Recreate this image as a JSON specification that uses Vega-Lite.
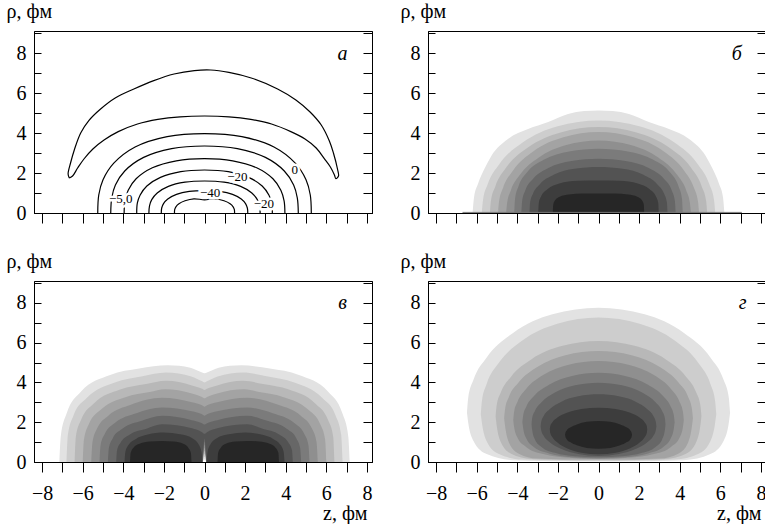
{
"$schema": "https://vega.github.io/schema/vega-lite/v6.json",
"padding": {"left": 5, "top": 0, "right": 0, "bottom": 0},
"bounds": "flush",
"columns": 2,
"spacing": {"row": 68, "column": 56},
"config": {
 "view": {"stroke": "#000", "strokeWidth": 1},
 "font": "Liberation Serif",
 "axis": {"domainColor": "#000", "domainWidth": 1, "tickColor": "#000", "tickWidth": 1, "labelColor": "#000", "labelFont": "Liberation Serif", "labelFontSize": 20, "titleFont": "Liberation Serif", "titleFontSize": 20, "titleFontWeight": "normal", "titleColor": "#000", "grid": false, "labelOverlap": false, "labelFlush": false, "labelBound": false}
},
"datasets": {
"tx": [
{"p":"a","k":"L","z":6.8,"r":7.96,"t":"а"},
{"p":"b","k":"L","z":6.81,"r":7.96,"t":"б"},
{"p":"v","k":"L","z":6.8,"r":8.0,"t":"в"},
{"p":"g","k":"L","z":7.1,"r":8.0,"t":"г"},
{"p":"a","k":"n","z":-4.13,"r":0.72,"t":"−5,0"},
{"p":"a","k":"n","z":1.62,"r":1.81,"t":"−20"},
{"p":"a","k":"n","z":0.28,"r":1.01,"t":"−40"},
{"p":"a","k":"n","z":2.92,"r":0.46,"t":"−20"},
{"p":"a","k":"n","z":4.45,"r":2.14,"t":"0"}
],
"ln": [
{"p":"a","c":0,"i":0,"z":-6.66,"r":1.75},
{"p":"a","c":0,"i":1,"z":-6.72,"r":1.95},
{"p":"a","c":0,"i":2,"z":-6.6,"r":2.5},
{"p":"a","c":0,"i":3,"z":-6.4,"r":3.2},
{"p":"a","c":0,"i":4,"z":-6.1,"r":4.0},
{"p":"a","c":0,"i":5,"z":-5.7,"r":4.62},
{"p":"a","c":0,"i":6,"z":-5.12,"r":5.2},
{"p":"a","c":0,"i":7,"z":-4.4,"r":5.75},
{"p":"a","c":0,"i":8,"z":-3.48,"r":6.2},
{"p":"a","c":0,"i":9,"z":-2.5,"r":6.62},
{"p":"a","c":0,"i":10,"z":-1.5,"r":6.95},
{"p":"a","c":0,"i":11,"z":-0.5,"r":7.12},
{"p":"a","c":0,"i":12,"z":0.3,"r":7.15},
{"p":"a","c":0,"i":13,"z":1.2,"r":7.03},
{"p":"a","c":0,"i":14,"z":2.3,"r":6.75},
{"p":"a","c":0,"i":15,"z":3.6,"r":6.2},
{"p":"a","c":0,"i":16,"z":4.5,"r":5.65},
{"p":"a","c":0,"i":17,"z":5.2,"r":5.05},
{"p":"a","c":0,"i":18,"z":5.75,"r":4.4},
{"p":"a","c":0,"i":19,"z":6.15,"r":3.6},
{"p":"a","c":0,"i":20,"z":6.35,"r":3.0},
{"p":"a","c":0,"i":21,"z":6.55,"r":2.2},
{"p":"a","c":0,"i":22,"z":6.6,"r":1.85},
{"p":"a","c":0,"i":23,"z":6.47,"r":1.72},
{"p":"a","c":0,"i":24,"z":6.4,"r":1.9},
{"p":"a","c":0,"i":25,"z":6.2,"r":2.3},
{"p":"a","c":0,"i":26,"z":5.9,"r":2.72},
{"p":"a","c":0,"i":27,"z":5.5,"r":3.25},
{"p":"a","c":0,"i":28,"z":4.95,"r":3.7},
{"p":"a","c":0,"i":29,"z":4.25,"r":4.07},
{"p":"a","c":0,"i":30,"z":3.3,"r":4.45},
{"p":"a","c":0,"i":31,"z":2.28,"r":4.68},
{"p":"a","c":0,"i":32,"z":1.2,"r":4.81},
{"p":"a","c":0,"i":33,"z":0,"r":4.85},
{"p":"a","c":0,"i":34,"z":-1.2,"r":4.81},
{"p":"a","c":0,"i":35,"z":-2.3,"r":4.68},
{"p":"a","c":0,"i":36,"z":-3.3,"r":4.45},
{"p":"a","c":0,"i":37,"z":-4.25,"r":4.07},
{"p":"a","c":0,"i":38,"z":-4.95,"r":3.65},
{"p":"a","c":0,"i":39,"z":-5.5,"r":3.2},
{"p":"a","c":0,"i":40,"z":-5.94,"r":2.7},
{"p":"a","c":0,"i":41,"z":-6.25,"r":2.25},
{"p":"a","c":0,"i":42,"z":-6.5,"r":1.85},
{"p":"a","c":0,"i":43,"z":-6.66,"r":1.75},
{"p":"a","c":1,"i":0,"z":-5.26,"r":0},
{"p":"a","c":1,"i":1,"z":-5.21,"r":0.9},
{"p":"a","c":1,"i":2,"z":-5.0,"r":1.66},
{"p":"a","c":1,"i":3,"z":-4.47,"r":2.49},
{"p":"a","c":1,"i":4,"z":-3.42,"r":3.3},
{"p":"a","c":1,"i":5,"z":-1.84,"r":3.82},
{"p":"a","c":1,"i":6,"z":0,"r":3.97},
{"p":"a","c":1,"i":7,"z":1.84,"r":3.82},
{"p":"a","c":1,"i":8,"z":3.42,"r":3.3},
{"p":"a","c":1,"i":9,"z":4.47,"r":2.49},
{"p":"a","c":1,"i":10,"z":5.0,"r":1.66},
{"p":"a","c":1,"i":11,"z":5.21,"r":0.9},
{"p":"a","c":1,"i":12,"z":5.26,"r":0},
{"p":"a","c":2,"i":0,"z":-4.62,"r":0},
{"p":"a","c":2,"i":1,"z":-4.57,"r":0.76},
{"p":"a","c":2,"i":2,"z":-4.39,"r":1.4},
{"p":"a","c":2,"i":3,"z":-3.93,"r":2.1},
{"p":"a","c":2,"i":4,"z":-3.0,"r":2.78},
{"p":"a","c":2,"i":5,"z":-1.62,"r":3.22},
{"p":"a","c":2,"i":6,"z":0,"r":3.35},
{"p":"a","c":2,"i":7,"z":1.62,"r":3.22},
{"p":"a","c":2,"i":8,"z":3.0,"r":2.78},
{"p":"a","c":2,"i":9,"z":3.93,"r":2.1},
{"p":"a","c":2,"i":10,"z":4.39,"r":1.4},
{"p":"a","c":2,"i":11,"z":4.57,"r":0.76},
{"p":"a","c":2,"i":12,"z":4.62,"r":0},
{"p":"a","c":3,"i":0,"z":-3.96,"r":0},
{"p":"a","c":3,"i":1,"z":-3.92,"r":0.61},
{"p":"a","c":3,"i":2,"z":-3.76,"r":1.14},
{"p":"a","c":3,"i":3,"z":-3.37,"r":1.71},
{"p":"a","c":3,"i":4,"z":-2.57,"r":2.26},
{"p":"a","c":3,"i":5,"z":-1.39,"r":2.61},
{"p":"a","c":3,"i":6,"z":0,"r":2.72},
{"p":"a","c":3,"i":7,"z":1.39,"r":2.61},
{"p":"a","c":3,"i":8,"z":2.57,"r":2.26},
{"p":"a","c":3,"i":9,"z":3.37,"r":1.71},
{"p":"a","c":3,"i":10,"z":3.76,"r":1.14},
{"p":"a","c":3,"i":11,"z":3.92,"r":0.61},
{"p":"a","c":3,"i":12,"z":3.96,"r":0},
{"p":"a","c":4,"i":0,"z":-3.34,"r":0},
{"p":"a","c":4,"i":1,"z":-3.31,"r":0.49},
{"p":"a","c":4,"i":2,"z":-3.17,"r":0.9},
{"p":"a","c":4,"i":3,"z":-2.84,"r":1.35},
{"p":"a","c":4,"i":4,"z":-2.17,"r":1.78},
{"p":"a","c":4,"i":5,"z":-1.17,"r":2.07},
{"p":"a","c":4,"i":6,"z":0,"r":2.15},
{"p":"a","c":4,"i":7,"z":1.17,"r":2.07},
{"p":"a","c":4,"i":8,"z":2.17,"r":1.78},
{"p":"a","c":4,"i":9,"z":2.84,"r":1.35},
{"p":"a","c":4,"i":10,"z":3.17,"r":0.9},
{"p":"a","c":4,"i":11,"z":3.31,"r":0.49},
{"p":"a","c":4,"i":12,"z":3.34,"r":0},
{"p":"a","c":5,"i":0,"z":-2.74,"r":0},
{"p":"a","c":5,"i":1,"z":-2.71,"r":0.36},
{"p":"a","c":5,"i":2,"z":-2.6,"r":0.67},
{"p":"a","c":5,"i":3,"z":-2.33,"r":1.0},
{"p":"a","c":5,"i":4,"z":-1.78,"r":1.33},
{"p":"a","c":5,"i":5,"z":-0.96,"r":1.54},
{"p":"a","c":5,"i":6,"z":0,"r":1.6},
{"p":"a","c":5,"i":7,"z":0.96,"r":1.54},
{"p":"a","c":5,"i":8,"z":1.78,"r":1.33},
{"p":"a","c":5,"i":9,"z":2.33,"r":1.0},
{"p":"a","c":5,"i":10,"z":2.6,"r":0.67},
{"p":"a","c":5,"i":11,"z":2.71,"r":0.36},
{"p":"a","c":5,"i":12,"z":2.74,"r":0},
{"p":"a","c":6,"i":0,"z":-2.13,"r":0},
{"p":"a","c":6,"i":1,"z":-2.11,"r":0.25},
{"p":"a","c":6,"i":2,"z":-2.02,"r":0.47},
{"p":"a","c":6,"i":3,"z":-1.81,"r":0.7},
{"p":"a","c":6,"i":4,"z":-1.38,"r":0.93},
{"p":"a","c":6,"i":5,"z":-0.75,"r":1.08},
{"p":"a","c":6,"i":6,"z":0,"r":1.12},
{"p":"a","c":6,"i":7,"z":0.75,"r":1.08},
{"p":"a","c":6,"i":8,"z":1.38,"r":0.93},
{"p":"a","c":6,"i":9,"z":1.81,"r":0.7},
{"p":"a","c":6,"i":10,"z":2.02,"r":0.47},
{"p":"a","c":6,"i":11,"z":2.11,"r":0.25},
{"p":"a","c":6,"i":12,"z":2.13,"r":0},
{"p":"a","c":7,"i":0,"z":-1.48,"r":0},
{"p":"a","c":7,"i":1,"z":-1.47,"r":0.17},
{"p":"a","c":7,"i":2,"z":-1.41,"r":0.31},
{"p":"a","c":7,"i":3,"z":-1.26,"r":0.46},
{"p":"a","c":7,"i":4,"z":-0.96,"r":0.61},
{"p":"a","c":7,"i":5,"z":-0.52,"r":0.71},
{"p":"a","c":7,"i":6,"z":0,"r":0.66},
{"p":"a","c":7,"i":7,"z":0.52,"r":0.71},
{"p":"a","c":7,"i":8,"z":0.96,"r":0.61},
{"p":"a","c":7,"i":9,"z":1.26,"r":0.46},
{"p":"a","c":7,"i":10,"z":1.41,"r":0.31},
{"p":"a","c":7,"i":11,"z":1.47,"r":0.17},
{"p":"a","c":7,"i":12,"z":1.48,"r":0},
{"p":"b","c":9,"i":0,"z":-6.7,"r":0.03},
{"p":"b","c":9,"i":1,"z":7.06,"r":0.03}
],
"ar": [
{"p":"b","l":1,"z":-6.2,"h":0,"o":0},{"p":"b","l":1,"z":-6.13,"h":0.8,"o":0},{"p":"b","l":1,"z":-5.94,"h":1.45,"o":0},{"p":"b","l":1,"z":-5.6,"h":2.25,"o":0},{"p":"b","l":1,"z":-5.28,"h":2.85,"o":0},{"p":"b","l":1,"z":-4.46,"h":3.7,"o":0},{"p":"b","l":1,"z":-3.47,"h":4.2,"o":0},{"p":"b","l":1,"z":-2.48,"h":4.55,"o":0},{"p":"b","l":1,"z":-1.5,"h":4.95,"o":0},{"p":"b","l":1,"z":-0.7,"h":5.1,"o":0},{"p":"b","l":1,"z":0,"h":5.13,"o":0},{"p":"b","l":1,"z":0.7,"h":5.1,"o":0},{"p":"b","l":1,"z":1.5,"h":4.95,"o":0},{"p":"b","l":1,"z":2.48,"h":4.55,"o":0},{"p":"b","l":1,"z":3.47,"h":4.2,"o":0},{"p":"b","l":1,"z":4.46,"h":3.7,"o":0},{"p":"b","l":1,"z":5.28,"h":2.85,"o":0},{"p":"b","l":1,"z":5.6,"h":2.25,"o":0},{"p":"b","l":1,"z":5.94,"h":1.45,"o":0},{"p":"b","l":1,"z":6.13,"h":0.8,"o":0},{"p":"b","l":1,"z":6.2,"h":0,"o":0},
{"p":"b","l":2,"z":-5.75,"h":0,"o":0},{"p":"b","l":2,"z":-5.69,"h":0.65,"o":0},{"p":"b","l":2,"z":-5.46,"h":1.44,"o":0},{"p":"b","l":2,"z":-4.89,"h":2.44,"o":0},{"p":"b","l":2,"z":-3.74,"h":3.52,"o":0},{"p":"b","l":2,"z":-2.01,"h":4.34,"o":0},{"p":"b","l":2,"z":0,"h":4.63,"o":0},{"p":"b","l":2,"z":2.01,"h":4.34,"o":0},{"p":"b","l":2,"z":3.74,"h":3.52,"o":0},{"p":"b","l":2,"z":4.89,"h":2.44,"o":0},{"p":"b","l":2,"z":5.46,"h":1.44,"o":0},{"p":"b","l":2,"z":5.69,"h":0.65,"o":0},{"p":"b","l":2,"z":5.75,"h":0,"o":0},
{"p":"b","l":3,"z":-5.35,"h":0,"o":0},{"p":"b","l":3,"z":-5.3,"h":0.61,"o":0},{"p":"b","l":3,"z":-5.08,"h":1.34,"o":0},{"p":"b","l":3,"z":-4.55,"h":2.27,"o":0},{"p":"b","l":3,"z":-3.48,"h":3.27,"o":0},{"p":"b","l":3,"z":-1.87,"h":4.03,"o":0},{"p":"b","l":3,"z":0,"h":4.3,"o":0},{"p":"b","l":3,"z":1.87,"h":4.03,"o":0},{"p":"b","l":3,"z":3.48,"h":3.27,"o":0},{"p":"b","l":3,"z":4.55,"h":2.27,"o":0},{"p":"b","l":3,"z":5.08,"h":1.34,"o":0},{"p":"b","l":3,"z":5.3,"h":0.61,"o":0},{"p":"b","l":3,"z":5.35,"h":0,"o":0},
{"p":"b","l":4,"z":-4.95,"h":0,"o":0},{"p":"b","l":4,"z":-4.9,"h":0.57,"o":0},{"p":"b","l":4,"z":-4.7,"h":1.26,"o":0},{"p":"b","l":4,"z":-4.21,"h":2.13,"o":0},{"p":"b","l":4,"z":-3.22,"h":3.08,"o":0},{"p":"b","l":4,"z":-1.73,"h":3.79,"o":0},{"p":"b","l":4,"z":0,"h":4.05,"o":0},{"p":"b","l":4,"z":1.73,"h":3.79,"o":0},{"p":"b","l":4,"z":3.22,"h":3.08,"o":0},{"p":"b","l":4,"z":4.21,"h":2.13,"o":0},{"p":"b","l":4,"z":4.7,"h":1.26,"o":0},{"p":"b","l":4,"z":4.9,"h":0.57,"o":0},{"p":"b","l":4,"z":4.95,"h":0,"o":0},
{"p":"b","l":5,"z":-4.55,"h":0,"o":0},{"p":"b","l":5,"z":-4.5,"h":0.51,"o":0},{"p":"b","l":5,"z":-4.32,"h":1.13,"o":0},{"p":"b","l":5,"z":-3.87,"h":1.91,"o":0},{"p":"b","l":5,"z":-2.96,"h":2.76,"o":0},{"p":"b","l":5,"z":-1.59,"h":3.4,"o":0},{"p":"b","l":5,"z":0,"h":3.63,"o":0},{"p":"b","l":5,"z":1.59,"h":3.4,"o":0},{"p":"b","l":5,"z":2.96,"h":2.76,"o":0},{"p":"b","l":5,"z":3.87,"h":1.91,"o":0},{"p":"b","l":5,"z":4.32,"h":1.13,"o":0},{"p":"b","l":5,"z":4.5,"h":0.51,"o":0},{"p":"b","l":5,"z":4.55,"h":0,"o":0},
{"p":"b","l":6,"z":-4.15,"h":0,"o":0},{"p":"b","l":6,"z":-4.11,"h":0.73,"o":0},{"p":"b","l":6,"z":-3.94,"h":1.34,"o":0},{"p":"b","l":6,"z":-3.53,"h":2.02,"o":0},{"p":"b","l":6,"z":-2.7,"h":2.66,"o":0},{"p":"b","l":6,"z":-1.45,"h":3.08,"o":0},{"p":"b","l":6,"z":0,"h":3.21,"o":0},{"p":"b","l":6,"z":1.45,"h":3.08,"o":0},{"p":"b","l":6,"z":2.7,"h":2.66,"o":0},{"p":"b","l":6,"z":3.53,"h":2.02,"o":0},{"p":"b","l":6,"z":3.94,"h":1.34,"o":0},{"p":"b","l":6,"z":4.11,"h":0.73,"o":0},{"p":"b","l":6,"z":4.15,"h":0,"o":0},
{"p":"b","l":7,"z":-3.8,"h":0,"o":0},{"p":"b","l":7,"z":-3.76,"h":0.61,"o":0},{"p":"b","l":7,"z":-3.61,"h":1.13,"o":0},{"p":"b","l":7,"z":-3.23,"h":1.7,"o":0},{"p":"b","l":7,"z":-2.47,"h":2.25,"o":0},{"p":"b","l":7,"z":-1.33,"h":2.6,"o":0},{"p":"b","l":7,"z":0,"h":2.71,"o":0},{"p":"b","l":7,"z":1.33,"h":2.6,"o":0},{"p":"b","l":7,"z":2.47,"h":2.25,"o":0},{"p":"b","l":7,"z":3.23,"h":1.7,"o":0},{"p":"b","l":7,"z":3.61,"h":1.13,"o":0},{"p":"b","l":7,"z":3.76,"h":0.61,"o":0},{"p":"b","l":7,"z":3.8,"h":0,"o":0},
{"p":"b","l":8,"z":-3.4,"h":0,"o":0},{"p":"b","l":8,"z":-3.37,"h":0.52,"o":0},{"p":"b","l":8,"z":-3.23,"h":0.96,"o":0},{"p":"b","l":8,"z":-2.89,"h":1.44,"o":0},{"p":"b","l":8,"z":-2.21,"h":1.91,"o":0},{"p":"b","l":8,"z":-1.19,"h":2.21,"o":0},{"p":"b","l":8,"z":0,"h":2.3,"o":0},{"p":"b","l":8,"z":1.19,"h":2.21,"o":0},{"p":"b","l":8,"z":2.21,"h":1.91,"o":0},{"p":"b","l":8,"z":2.89,"h":1.44,"o":0},{"p":"b","l":8,"z":3.23,"h":0.96,"o":0},{"p":"b","l":8,"z":3.37,"h":0.52,"o":0},{"p":"b","l":8,"z":3.4,"h":0,"o":0},
{"p":"b","l":9,"z":-2.97,"h":0,"o":0},{"p":"b","l":9,"z":-2.94,"h":0.51,"o":0},{"p":"b","l":9,"z":-2.82,"h":0.85,"o":0},{"p":"b","l":9,"z":-2.52,"h":1.19,"o":0},{"p":"b","l":9,"z":-1.93,"h":1.47,"o":0},{"p":"b","l":9,"z":-1.04,"h":1.61,"o":0},{"p":"b","l":9,"z":0,"h":1.63,"o":0},{"p":"b","l":9,"z":1.04,"h":1.61,"o":0},{"p":"b","l":9,"z":1.93,"h":1.47,"o":0},{"p":"b","l":9,"z":2.52,"h":1.19,"o":0},{"p":"b","l":9,"z":2.82,"h":0.85,"o":0},{"p":"b","l":9,"z":2.94,"h":0.51,"o":0},{"p":"b","l":9,"z":2.97,"h":0,"o":0},
{"p":"b","l":10,"z":-2.25,"h":0,"o":0},{"p":"b","l":10,"z":-2.23,"h":0.43,"o":0},{"p":"b","l":10,"z":-2.14,"h":0.64,"o":0},{"p":"b","l":10,"z":-1.91,"h":0.81,"o":0},{"p":"b","l":10,"z":-1.46,"h":0.92,"o":0},{"p":"b","l":10,"z":-0.79,"h":0.97,"o":0},{"p":"b","l":10,"z":0,"h":0.97,"o":0},{"p":"b","l":10,"z":0.79,"h":0.97,"o":0},{"p":"b","l":10,"z":1.46,"h":0.92,"o":0},{"p":"b","l":10,"z":1.91,"h":0.81,"o":0},{"p":"b","l":10,"z":2.14,"h":0.64,"o":0},{"p":"b","l":10,"z":2.23,"h":0.43,"o":0},{"p":"b","l":10,"z":2.25,"h":0,"o":0},

{"p":"v","l":1,"z":-7.15,"h":0,"o":0},{"p":"v","l":1,"z":-7.08,"h":1.3,"o":0},{"p":"v","l":1,"z":-6.79,"h":2.45,"o":0},{"p":"v","l":1,"z":-6.08,"h":3.55,"o":0},{"p":"v","l":1,"z":-4.65,"h":4.38,"o":0},{"p":"v","l":1,"z":-3.22,"h":4.7,"o":0},{"p":"v","l":1,"z":-1.8,"h":4.86,"o":0},{"p":"v","l":1,"z":-0.7,"h":4.74,"o":0},{"p":"v","l":1,"z":-0.12,"h":4.5,"o":0},{"p":"v","l":1,"z":0,"h":4.46,"o":0.12},{"p":"v","l":1,"z":0.12,"h":4.5,"o":0},{"p":"v","l":1,"z":0.7,"h":4.74,"o":0},{"p":"v","l":1,"z":1.8,"h":4.86,"o":0},{"p":"v","l":1,"z":3.22,"h":4.7,"o":0},{"p":"v","l":1,"z":4.65,"h":4.38,"o":0},{"p":"v","l":1,"z":6.08,"h":3.55,"o":0},{"p":"v","l":1,"z":6.79,"h":2.45,"o":0},{"p":"v","l":1,"z":7.08,"h":1.3,"o":0},{"p":"v","l":1,"z":7.15,"h":0,"o":0},
{"p":"v","l":2,"z":-6.8,"h":0,"o":0},{"p":"v","l":2,"z":-6.73,"h":1.38,"o":0},{"p":"v","l":2,"z":-6.46,"h":2.33,"o":0},{"p":"v","l":2,"z":-5.78,"h":3.24,"o":0},{"p":"v","l":2,"z":-4.42,"h":4.0,"o":0},{"p":"v","l":2,"z":-3.06,"h":4.31,"o":0},{"p":"v","l":2,"z":-1.9,"h":4.5,"o":0},{"p":"v","l":2,"z":-0.65,"h":4.3,"o":0},{"p":"v","l":2,"z":-0.12,"h":4.06,"o":0},{"p":"v","l":2,"z":0,"h":4.0,"o":0.27},{"p":"v","l":2,"z":0.12,"h":4.06,"o":0},{"p":"v","l":2,"z":0.65,"h":4.3,"o":0},{"p":"v","l":2,"z":1.9,"h":4.5,"o":0},{"p":"v","l":2,"z":3.06,"h":4.31,"o":0},{"p":"v","l":2,"z":4.42,"h":4.0,"o":0},{"p":"v","l":2,"z":5.78,"h":3.24,"o":0},{"p":"v","l":2,"z":6.46,"h":2.33,"o":0},{"p":"v","l":2,"z":6.73,"h":1.38,"o":0},{"p":"v","l":2,"z":6.8,"h":0,"o":0},
{"p":"v","l":3,"z":-6.4,"h":0,"o":0},{"p":"v","l":3,"z":-6.34,"h":1.26,"o":0},{"p":"v","l":3,"z":-6.08,"h":2.12,"o":0},{"p":"v","l":3,"z":-5.44,"h":2.95,"o":0},{"p":"v","l":3,"z":-4.16,"h":3.64,"o":0},{"p":"v","l":3,"z":-2.88,"h":3.92,"o":0},{"p":"v","l":3,"z":-1.9,"h":4.08,"o":0},{"p":"v","l":3,"z":-0.62,"h":3.85,"o":0},{"p":"v","l":3,"z":-0.12,"h":3.68,"o":0},{"p":"v","l":3,"z":0,"h":3.62,"o":0.42},{"p":"v","l":3,"z":0.12,"h":3.68,"o":0},{"p":"v","l":3,"z":0.62,"h":3.85,"o":0},{"p":"v","l":3,"z":1.9,"h":4.08,"o":0},{"p":"v","l":3,"z":2.88,"h":3.92,"o":0},{"p":"v","l":3,"z":4.16,"h":3.64,"o":0},{"p":"v","l":3,"z":5.44,"h":2.95,"o":0},{"p":"v","l":3,"z":6.08,"h":2.12,"o":0},{"p":"v","l":3,"z":6.34,"h":1.26,"o":0},{"p":"v","l":3,"z":6.4,"h":0,"o":0},
{"p":"v","l":4,"z":-6.0,"h":0,"o":0},{"p":"v","l":4,"z":-5.94,"h":1.13,"o":0},{"p":"v","l":4,"z":-5.7,"h":1.9,"o":0},{"p":"v","l":4,"z":-5.1,"h":2.64,"o":0},{"p":"v","l":4,"z":-3.9,"h":3.26,"o":0},{"p":"v","l":4,"z":-2.7,"h":3.52,"o":0},{"p":"v","l":4,"z":-1.95,"h":3.66,"o":0},{"p":"v","l":4,"z":-0.62,"h":3.45,"o":0},{"p":"v","l":4,"z":-0.12,"h":3.27,"o":0},{"p":"v","l":4,"z":0,"h":3.2,"o":0.57},{"p":"v","l":4,"z":0.12,"h":3.27,"o":0},{"p":"v","l":4,"z":0.62,"h":3.45,"o":0},{"p":"v","l":4,"z":1.95,"h":3.66,"o":0},{"p":"v","l":4,"z":2.7,"h":3.52,"o":0},{"p":"v","l":4,"z":3.9,"h":3.26,"o":0},{"p":"v","l":4,"z":5.1,"h":2.64,"o":0},{"p":"v","l":4,"z":5.7,"h":1.9,"o":0},{"p":"v","l":4,"z":5.94,"h":1.13,"o":0},{"p":"v","l":4,"z":6.0,"h":0,"o":0},
{"p":"v","l":5,"z":-5.58,"h":0,"o":0},{"p":"v","l":5,"z":-5.52,"h":0.99,"o":0},{"p":"v","l":5,"z":-5.3,"h":1.67,"o":0},{"p":"v","l":5,"z":-4.74,"h":2.33,"o":0},{"p":"v","l":5,"z":-3.63,"h":2.88,"o":0},{"p":"v","l":5,"z":-2.1,"h":3.23,"o":0},{"p":"v","l":5,"z":-0.62,"h":3.0,"o":0},{"p":"v","l":5,"z":-0.12,"h":2.85,"o":0},{"p":"v","l":5,"z":0,"h":2.78,"o":0.72},{"p":"v","l":5,"z":0.12,"h":2.85,"o":0},{"p":"v","l":5,"z":0.62,"h":3.0,"o":0},{"p":"v","l":5,"z":2.1,"h":3.23,"o":0},{"p":"v","l":5,"z":3.63,"h":2.88,"o":0},{"p":"v","l":5,"z":4.74,"h":2.33,"o":0},{"p":"v","l":5,"z":5.3,"h":1.67,"o":0},{"p":"v","l":5,"z":5.52,"h":0.99,"o":0},{"p":"v","l":5,"z":5.58,"h":0,"o":0},
{"p":"v","l":6,"z":-5.17,"h":0,"o":0},{"p":"v","l":6,"z":-5.12,"h":0.84,"o":0},{"p":"v","l":6,"z":-4.91,"h":1.42,"o":0},{"p":"v","l":6,"z":-4.39,"h":1.98,"o":0},{"p":"v","l":6,"z":-3.36,"h":2.45,"o":0},{"p":"v","l":6,"z":-2.1,"h":2.74,"o":0},{"p":"v","l":6,"z":-0.62,"h":2.55,"o":0},{"p":"v","l":6,"z":-0.12,"h":2.4,"o":0},{"p":"v","l":6,"z":0,"h":2.33,"o":0.87},{"p":"v","l":6,"z":0.12,"h":2.4,"o":0},{"p":"v","l":6,"z":0.62,"h":2.55,"o":0},{"p":"v","l":6,"z":2.1,"h":2.74,"o":0},{"p":"v","l":6,"z":3.36,"h":2.45,"o":0},{"p":"v","l":6,"z":4.39,"h":1.98,"o":0},{"p":"v","l":6,"z":4.91,"h":1.42,"o":0},{"p":"v","l":6,"z":5.12,"h":0.84,"o":0},{"p":"v","l":6,"z":5.17,"h":0,"o":0},
{"p":"v","l":7,"z":-4.76,"h":0,"o":0},{"p":"v","l":7,"z":-4.71,"h":0.71,"o":0},{"p":"v","l":7,"z":-4.52,"h":1.2,"o":0},{"p":"v","l":7,"z":-4.05,"h":1.67,"o":0},{"p":"v","l":7,"z":-3.09,"h":2.07,"o":0},{"p":"v","l":7,"z":-2.1,"h":2.32,"o":0},{"p":"v","l":7,"z":-0.62,"h":2.1,"o":0},{"p":"v","l":7,"z":-0.12,"h":1.95,"o":0},{"p":"v","l":7,"z":0,"h":1.88,"o":1.02},{"p":"v","l":7,"z":0.12,"h":1.95,"o":0},{"p":"v","l":7,"z":0.62,"h":2.1,"o":0},{"p":"v","l":7,"z":2.1,"h":2.32,"o":0},{"p":"v","l":7,"z":3.09,"h":2.07,"o":0},{"p":"v","l":7,"z":4.05,"h":1.67,"o":0},{"p":"v","l":7,"z":4.52,"h":1.2,"o":0},{"p":"v","l":7,"z":4.71,"h":0.71,"o":0},{"p":"v","l":7,"z":4.76,"h":0,"o":0},
{"p":"v","l":8,"z":-4.35,"h":0,"o":0},{"p":"v","l":8,"z":-4.31,"h":0.58,"o":0},{"p":"v","l":8,"z":-4.13,"h":0.98,"o":0},{"p":"v","l":8,"z":-3.7,"h":1.37,"o":0},{"p":"v","l":8,"z":-2.83,"h":1.69,"o":0},{"p":"v","l":8,"z":-2.1,"h":1.9,"o":0},{"p":"v","l":8,"z":-0.62,"h":1.7,"o":0},{"p":"v","l":8,"z":-0.12,"h":1.5,"o":0},{"p":"v","l":8,"z":0,"h":1.42,"o":1.17},{"p":"v","l":8,"z":0.12,"h":1.5,"o":0},{"p":"v","l":8,"z":0.62,"h":1.7,"o":0},{"p":"v","l":8,"z":2.1,"h":1.9,"o":0},{"p":"v","l":8,"z":2.83,"h":1.69,"o":0},{"p":"v","l":8,"z":3.7,"h":1.37,"o":0},{"p":"v","l":8,"z":4.13,"h":0.98,"o":0},{"p":"v","l":8,"z":4.31,"h":0.58,"o":0},{"p":"v","l":8,"z":4.35,"h":0,"o":0},
{"p":"v","l":9,"s":1,"z":-3.94,"h":0,"o":0},{"p":"v","l":9,"s":1,"z":-3.9,"h":0.5,"o":0},{"p":"v","l":9,"s":1,"z":-3.75,"h":0.85,"o":0},{"p":"v","l":9,"s":1,"z":-3.4,"h":1.15,"o":0},{"p":"v","l":9,"s":1,"z":-2.8,"h":1.38,"o":0},{"p":"v","l":9,"s":1,"z":-2.0,"h":1.48,"o":0},{"p":"v","l":9,"s":1,"z":-1.2,"h":1.4,"o":0},{"p":"v","l":9,"s":1,"z":-0.6,"h":1.2,"o":0},{"p":"v","l":9,"s":1,"z":-0.3,"h":0.9,"o":0},{"p":"v","l":9,"s":1,"z":-0.15,"h":0.5,"o":0},{"p":"v","l":9,"s":1,"z":-0.1,"h":0,"o":0},
{"p":"v","l":9,"s":2,"z":0.1,"h":0,"o":0},{"p":"v","l":9,"s":2,"z":0.15,"h":0.5,"o":0},{"p":"v","l":9,"s":2,"z":0.3,"h":0.9,"o":0},{"p":"v","l":9,"s":2,"z":0.6,"h":1.2,"o":0},{"p":"v","l":9,"s":2,"z":1.2,"h":1.4,"o":0},{"p":"v","l":9,"s":2,"z":2.0,"h":1.48,"o":0},{"p":"v","l":9,"s":2,"z":2.8,"h":1.38,"o":0},{"p":"v","l":9,"s":2,"z":3.4,"h":1.15,"o":0},{"p":"v","l":9,"s":2,"z":3.75,"h":0.85,"o":0},{"p":"v","l":9,"s":2,"z":3.9,"h":0.5,"o":0},{"p":"v","l":9,"s":2,"z":3.94,"h":0,"o":0},
{"p":"v","l":10,"s":1,"z":-3.67,"h":0,"o":0},{"p":"v","l":10,"s":1,"z":-3.64,"h":0.45,"o":0},{"p":"v","l":10,"s":1,"z":-3.5,"h":0.72,"o":0},{"p":"v","l":10,"s":1,"z":-3.2,"h":0.92,"o":0},{"p":"v","l":10,"s":1,"z":-2.7,"h":1.03,"o":0},{"p":"v","l":10,"s":1,"z":-2.1,"h":1.06,"o":0},{"p":"v","l":10,"s":1,"z":-1.5,"h":1.03,"o":0},{"p":"v","l":10,"s":1,"z":-1.05,"h":0.92,"o":0},{"p":"v","l":10,"s":1,"z":-0.8,"h":0.72,"o":0},{"p":"v","l":10,"s":1,"z":-0.67,"h":0.45,"o":0},{"p":"v","l":10,"s":1,"z":-0.64,"h":0,"o":0},
{"p":"v","l":10,"s":2,"z":0.64,"h":0,"o":0},{"p":"v","l":10,"s":2,"z":0.67,"h":0.45,"o":0},{"p":"v","l":10,"s":2,"z":0.8,"h":0.72,"o":0},{"p":"v","l":10,"s":2,"z":1.05,"h":0.92,"o":0},{"p":"v","l":10,"s":2,"z":1.5,"h":1.03,"o":0},{"p":"v","l":10,"s":2,"z":2.1,"h":1.06,"o":0},{"p":"v","l":10,"s":2,"z":2.7,"h":1.03,"o":0},{"p":"v","l":10,"s":2,"z":3.2,"h":0.92,"o":0},{"p":"v","l":10,"s":2,"z":3.5,"h":0.72,"o":0},{"p":"v","l":10,"s":2,"z":3.64,"h":0.45,"o":0},{"p":"v","l":10,"s":2,"z":3.67,"h":0,"o":0},

{"p":"g","l":1,"z":-6.48,"h":2.48,"o":2.48},{"p":"g","l":1,"z":-6.42,"h":3.22,"o":1.99},{"p":"g","l":1,"z":-6.16,"h":4.13,"o":1.06},{"p":"g","l":1,"z":-5.51,"h":5.26,"o":0.4},{"p":"g","l":1,"z":-4.21,"h":6.49,"o":0.09},{"p":"g","l":1,"z":-2.27,"h":7.43,"o":0.04},{"p":"g","l":1,"z":0,"h":7.76,"o":0.03},{"p":"g","l":1,"z":2.27,"h":7.43,"o":0.04},{"p":"g","l":1,"z":4.21,"h":6.49,"o":0.09},{"p":"g","l":1,"z":5.51,"h":5.26,"o":0.4},{"p":"g","l":1,"z":6.16,"h":4.13,"o":1.06},{"p":"g","l":1,"z":6.42,"h":3.22,"o":1.99},{"p":"g","l":1,"z":6.48,"h":2.48,"o":2.48},
{"p":"g","l":2,"z":-5.8,"h":2.4,"o":2.4},{"p":"g","l":2,"z":-5.74,"h":3.09,"o":1.93},{"p":"g","l":2,"z":-5.51,"h":3.92,"o":1.04},{"p":"g","l":2,"z":-4.93,"h":4.96,"o":0.41},{"p":"g","l":2,"z":-3.77,"h":6.09,"o":0.12},{"p":"g","l":2,"z":-2.03,"h":6.95,"o":0.07},{"p":"g","l":2,"z":0,"h":7.26,"o":0.06},{"p":"g","l":2,"z":2.03,"h":6.95,"o":0.07},{"p":"g","l":2,"z":3.77,"h":6.09,"o":0.12},{"p":"g","l":2,"z":4.93,"h":4.96,"o":0.41},{"p":"g","l":2,"z":5.51,"h":3.92,"o":1.04},{"p":"g","l":2,"z":5.74,"h":3.09,"o":1.93},{"p":"g","l":2,"z":5.8,"h":2.4,"o":2.4},
{"p":"g","l":3,"z":-5.07,"h":2.3,"o":2.3},{"p":"g","l":3,"z":-5.02,"h":2.83,"o":1.86},{"p":"g","l":3,"z":-4.82,"h":3.48,"o":1.02},{"p":"g","l":3,"z":-4.31,"h":4.29,"o":0.42},{"p":"g","l":3,"z":-3.3,"h":5.17,"o":0.15},{"p":"g","l":3,"z":-1.77,"h":5.84,"o":0.1},{"p":"g","l":3,"z":0,"h":6.08,"o":0.09},{"p":"g","l":3,"z":1.77,"h":5.84,"o":0.1},{"p":"g","l":3,"z":3.3,"h":5.17,"o":0.15},{"p":"g","l":3,"z":4.31,"h":4.29,"o":0.42},{"p":"g","l":3,"z":4.82,"h":3.48,"o":1.02},{"p":"g","l":3,"z":5.02,"h":2.83,"o":1.86},{"p":"g","l":3,"z":5.07,"h":2.3,"o":2.3},
{"p":"g","l":4,"z":-4.65,"h":2.2,"o":2.2},{"p":"g","l":4,"z":-4.6,"h":2.68,"o":1.78},{"p":"g","l":4,"z":-4.42,"h":3.26,"o":0.99},{"p":"g","l":4,"z":-3.95,"h":3.98,"o":0.43},{"p":"g","l":4,"z":-3.02,"h":4.77,"o":0.17},{"p":"g","l":4,"z":-1.63,"h":5.37,"o":0.13},{"p":"g","l":4,"z":0,"h":5.58,"o":0.12},{"p":"g","l":4,"z":1.63,"h":5.37,"o":0.13},{"p":"g","l":4,"z":3.02,"h":4.77,"o":0.17},{"p":"g","l":4,"z":3.95,"h":3.98,"o":0.43},{"p":"g","l":4,"z":4.42,"h":3.26,"o":0.99},{"p":"g","l":4,"z":4.6,"h":2.68,"o":1.78},{"p":"g","l":4,"z":4.65,"h":2.2,"o":2.2},
{"p":"g","l":5,"z":-4.2,"h":2.1,"o":2.1},{"p":"g","l":5,"z":-4.16,"h":2.52,"o":1.77},{"p":"g","l":5,"z":-3.99,"h":3.03,"o":1.22},{"p":"g","l":5,"z":-3.57,"h":3.67,"o":0.76},{"p":"g","l":5,"z":-2.73,"h":4.37,"o":0.4},{"p":"g","l":5,"z":-1.47,"h":4.89,"o":0.21},{"p":"g","l":5,"z":0,"h":5.08,"o":0.15},{"p":"g","l":5,"z":1.47,"h":4.89,"o":0.21},{"p":"g","l":5,"z":2.73,"h":4.37,"o":0.4},{"p":"g","l":5,"z":3.57,"h":3.67,"o":0.76},{"p":"g","l":5,"z":3.99,"h":3.03,"o":1.22},{"p":"g","l":5,"z":4.16,"h":2.52,"o":1.77},{"p":"g","l":5,"z":4.2,"h":2.1,"o":2.1},
{"p":"g","l":6,"z":-3.75,"h":2.0,"o":2.0},{"p":"g","l":6,"z":-3.71,"h":2.35,"o":1.69},{"p":"g","l":6,"z":-3.56,"h":2.78,"o":1.19},{"p":"g","l":6,"z":-3.19,"h":3.31,"o":0.75},{"p":"g","l":6,"z":-2.44,"h":3.89,"o":0.43},{"p":"g","l":6,"z":-1.31,"h":4.33,"o":0.24},{"p":"g","l":6,"z":0,"h":4.49,"o":0.19},{"p":"g","l":6,"z":1.31,"h":4.33,"o":0.24},{"p":"g","l":6,"z":2.44,"h":3.89,"o":0.43},{"p":"g","l":6,"z":3.19,"h":3.31,"o":0.75},{"p":"g","l":6,"z":3.56,"h":2.78,"o":1.19},{"p":"g","l":6,"z":3.71,"h":2.35,"o":1.69},{"p":"g","l":6,"z":3.75,"h":2.0,"o":2.0},
{"p":"g","l":7,"z":-3.3,"h":1.9,"o":1.9},{"p":"g","l":7,"z":-3.27,"h":2.2,"o":1.62},{"p":"g","l":7,"z":-3.14,"h":2.55,"o":1.15},{"p":"g","l":7,"z":-2.81,"h":3.0,"o":0.76},{"p":"g","l":7,"z":-2.15,"h":3.49,"o":0.46},{"p":"g","l":7,"z":-1.16,"h":3.86,"o":0.29},{"p":"g","l":7,"z":0,"h":3.99,"o":0.24},{"p":"g","l":7,"z":1.16,"h":3.86,"o":0.29},{"p":"g","l":7,"z":2.15,"h":3.49,"o":0.46},{"p":"g","l":7,"z":2.81,"h":3.0,"o":0.76},{"p":"g","l":7,"z":3.14,"h":2.55,"o":1.15},{"p":"g","l":7,"z":3.27,"h":2.2,"o":1.62},{"p":"g","l":7,"z":3.3,"h":1.9,"o":1.9},
{"p":"g","l":8,"z":-2.85,"h":1.8,"o":1.8},{"p":"g","l":8,"z":-2.82,"h":2.03,"o":1.59},{"p":"g","l":8,"z":-2.71,"h":2.3,"o":1.33},{"p":"g","l":8,"z":-2.42,"h":2.64,"o":1.01},{"p":"g","l":8,"z":-1.85,"h":3.02,"o":0.66},{"p":"g","l":8,"z":-1.0,"h":3.3,"o":0.4},{"p":"g","l":8,"z":0,"h":3.4,"o":0.3},{"p":"g","l":8,"z":1.0,"h":3.3,"o":0.4},{"p":"g","l":8,"z":1.85,"h":3.02,"o":0.66},{"p":"g","l":8,"z":2.42,"h":2.64,"o":1.01},{"p":"g","l":8,"z":2.71,"h":2.3,"o":1.33},{"p":"g","l":8,"z":2.82,"h":2.03,"o":1.59},{"p":"g","l":8,"z":2.85,"h":1.8,"o":1.8},
{"p":"g","l":9,"z":-2.4,"h":1.65,"o":1.65},{"p":"g","l":9,"z":-2.38,"h":1.8,"o":1.47},{"p":"g","l":9,"z":-2.28,"h":1.99,"o":1.26},{"p":"g","l":9,"z":-2.04,"h":2.22,"o":0.99},{"p":"g","l":9,"z":-1.56,"h":2.47,"o":0.69},{"p":"g","l":9,"z":-0.84,"h":2.66,"o":0.47},{"p":"g","l":9,"z":0,"h":2.73,"o":0.39},{"p":"g","l":9,"z":0.84,"h":2.66,"o":0.47},{"p":"g","l":9,"z":1.56,"h":2.47,"o":0.69},{"p":"g","l":9,"z":2.04,"h":2.22,"o":0.99},{"p":"g","l":9,"z":2.28,"h":1.99,"o":1.26},{"p":"g","l":9,"z":2.38,"h":1.8,"o":1.47},{"p":"g","l":9,"z":2.4,"h":1.65,"o":1.65},
{"p":"g","l":10,"z":-1.65,"h":1.37,"o":1.37},{"p":"g","l":10,"z":-1.63,"h":1.47,"o":1.27},{"p":"g","l":10,"z":-1.57,"h":1.59,"o":1.15},{"p":"g","l":10,"z":-1.4,"h":1.73,"o":1.0},{"p":"g","l":10,"z":-1.07,"h":1.89,"o":0.84},{"p":"g","l":10,"z":-0.58,"h":2.02,"o":0.71},{"p":"g","l":10,"z":0,"h":2.06,"o":0.67},{"p":"g","l":10,"z":0.58,"h":2.02,"o":0.71},{"p":"g","l":10,"z":1.07,"h":1.89,"o":0.84},{"p":"g","l":10,"z":1.4,"h":1.73,"o":1.0},{"p":"g","l":10,"z":1.57,"h":1.59,"o":1.15},{"p":"g","l":10,"z":1.63,"h":1.47,"o":1.27},{"p":"g","l":10,"z":1.65,"h":1.37,"o":1.37}
]
},
"concat": [
{
 "width": 338, "height": 182,
 "resolve": {"axis": {"y": "independent"}},
 "encoding": {
  "x": {"field": "z", "type": "quantitative", "scale": {"domain": [-8.4, 8.25], "nice": false, "zero": false},
    "axis": {"values": [-8,-7,-6,-5,-4,-3,-2,-1,0,1,2,3,4,5,6,7,8], "tickSize": 10, "encode": {"ticks": {"update": {"y2": {"signal": "datum.value % 2 === 0 ? 10 : 6"}}}}, "labels": false, "title": null}}
 },
 "layer": [
  {"data": {"name": "ln"}, "transform": [{"filter": "datum.p === 'a'"}],
   "mark": {"type": "line", "interpolate": "catmull-rom", "color": "#000", "strokeWidth": 1.2},
   "encoding": {
    "y": {"field": "r", "type": "quantitative", "scale": {"domain": [0, 9.1], "nice": false, "zero": false},
      "axis": {"values": [0,1,2,3,4,5,6,7,8,9], "tickSize": -7, "encode": {"ticks": {"update": {"x2": {"signal": "datum.value % 2 === 0 ? 7 : 5"}}}}, "labelExpr": "datum.value % 2 === 0 ? '' + datum.value : ''", "labelPadding": 15, "title": "ρ, фм", "titleAngle": 0, "titleAlign": "left", "titleBaseline": "alphabetic", "titleX": -28, "titleY": -14}},
    "detail": {"field": "c"},
    "order": {"field": "i"}
   }},
  {"data": {"name": "tx"}, "transform": [{"filter": "datum.p === 'a' && datum.k === 'n'"}],
   "mark": {"type": "text", "font": "Liberation Serif", "fontSize": 13, "fill": "#fff", "stroke": "#fff", "strokeWidth": 5, "baseline": "middle"},
   "encoding": {
    "y": {"field": "r", "type": "quantitative", "scale": {"domain": [0, 9.1], "nice": false, "zero": false}, "axis": null},
    "text": {"field": "t"}}},
  {"data": {"name": "tx"}, "transform": [{"filter": "datum.p === 'a' && datum.k === 'n'"}],
   "mark": {"type": "text", "font": "Liberation Serif", "fontSize": 13, "fill": "#000", "baseline": "middle"},
   "encoding": {
    "y": {"field": "r", "type": "quantitative", "scale": {"domain": [0, 9.1], "nice": false, "zero": false}, "axis": null},
    "text": {"field": "t"}}},
  {"data": {"name": "tx"}, "transform": [{"filter": "datum.p === 'a' && datum.k === 'L'"}],
   "mark": {"type": "text", "font": "Liberation Serif", "fontSize": 20, "fontStyle": "italic", "fill": "#000", "baseline": "middle"},
   "encoding": {
    "y": {"field": "r", "type": "quantitative", "scale": {"domain": [0, 9.1], "nice": false, "zero": false},
      "axis": {"orient": "right", "values": [0,1,2,3,4,5,6,7,8,9], "tickSize": -9, "encode": {"ticks": {"update": {"x2": {"signal": "datum.value % 2 === 0 ? -9 : -6"}}}}, "labels": false, "title": null}},
    "text": {"field": "t"}}}
 ]
},
{
 "width": 338, "height": 182,
 "resolve": {"axis": {"y": "independent"}},
 "encoding": {
  "x": {"field": "z", "type": "quantitative", "scale": {"domain": [-8.4, 8.25], "nice": false, "zero": false},
    "axis": {"values": [-8,-7,-6,-5,-4,-3,-2,-1,0,1,2,3,4,5,6,7,8], "tickSize": 10, "encode": {"ticks": {"update": {"y2": {"signal": "datum.value % 2 === 0 ? 10 : 6"}}}}, "labels": false, "title": null}}
 },
 "layer": [
  {"data": {"name": "ar"}, "transform": [{"filter": "datum.p === 'b'"}],
   "mark": {"type": "area", "interpolate": "monotone", "opacity": 1},
   "encoding": {
    "y": {"field": "h", "type": "quantitative", "stack": null, "scale": {"domain": [0, 9.1], "nice": false, "zero": false},
      "axis": {"values": [0,1,2,3,4,5,6,7,8,9], "tickSize": -7, "encode": {"ticks": {"update": {"x2": {"signal": "datum.value % 2 === 0 ? 7 : 5"}}}}, "labelExpr": "datum.value % 2 === 0 ? '' + datum.value : ''", "labelPadding": 15, "title": "ρ, фм", "titleAngle": 0, "titleAlign": "left", "titleBaseline": "alphabetic", "titleX": -28, "titleY": -14}},
    "y2": {"field": "o"},
    "color": {"field": "l", "type": "ordinal", "legend": null, "scale": {"domain": [1,2,3,4,5,6,7,8,9,10], "range": ["#e2e2e2","#cdcdcd","#b8b8b8","#a3a3a3","#8f8f8f","#7b7b7b","#676767","#535353","#3d3d3d","#262626"]}},
    "detail": {"field": "s"}
   }},
  {"data": {"name": "ln"}, "transform": [{"filter": "datum.p === 'b'"}],
   "mark": {"type": "line", "color": "#777", "strokeWidth": 1},
   "encoding": {
    "y": {"field": "r", "type": "quantitative", "scale": {"domain": [0, 9.1], "nice": false, "zero": false}, "axis": null},
    "order": {"field": "i"}}},
  {"data": {"name": "tx"}, "transform": [{"filter": "datum.p === 'b' && datum.k === 'L'"}],
   "mark": {"type": "text", "font": "Liberation Serif", "fontSize": 20, "fontStyle": "italic", "fill": "#000", "baseline": "middle"},
   "encoding": {
    "y": {"field": "r", "type": "quantitative", "scale": {"domain": [0, 9.1], "nice": false, "zero": false},
      "axis": {"orient": "right", "values": [0,1,2,3,4,5,6,7,8,9], "tickSize": -9, "encode": {"ticks": {"update": {"x2": {"signal": "datum.value % 2 === 0 ? -9 : -6"}}}}, "labels": false, "title": null}},
    "text": {"field": "t"}}}
 ]
},
{
 "width": 338, "height": 181,
 "resolve": {"axis": {"y": "independent"}},
 "encoding": {
  "x": {"field": "z", "type": "quantitative", "scale": {"domain": [-8.4, 8.25], "nice": false, "zero": false},
    "axis": {"values": [-8,-7,-6,-5,-4,-3,-2,-1,0,1,2,3,4,5,6,7,8], "tickSize": 10, "encode": {"ticks": {"update": {"y2": {"signal": "datum.value % 2 === 0 ? 10 : 6"}}}}, "labelExpr": "datum.value % 2 === 0 ? (datum.value < 0 ? '−' + abs(datum.value) : '' + datum.value) : ''", "labelPadding": 11, "title": "z, фм", "titleX": 333, "titleY": 57, "titleAlign": "right", "titleBaseline": "alphabetic"}}
 },
 "layer": [
  {"data": {"name": "ar"}, "transform": [{"filter": "datum.p === 'v'"}],
   "mark": {"type": "area", "interpolate": "monotone", "opacity": 1},
   "encoding": {
    "y": {"field": "h", "type": "quantitative", "stack": null, "scale": {"domain": [0, 9.1], "nice": false, "zero": false},
      "axis": {"values": [0,1,2,3,4,5,6,7,8,9], "tickSize": -7, "encode": {"ticks": {"update": {"x2": {"signal": "datum.value % 2 === 0 ? 7 : 5"}}}}, "labelExpr": "datum.value % 2 === 0 ? '' + datum.value : ''", "labelPadding": 15, "title": "ρ, фм", "titleAngle": 0, "titleAlign": "left", "titleBaseline": "alphabetic", "titleX": -28, "titleY": -14}},
    "y2": {"field": "o"},
    "color": {"field": "l", "type": "ordinal", "legend": null, "scale": {"domain": [1,2,3,4,5,6,7,8,9,10], "range": ["#e2e2e2","#cdcdcd","#b8b8b8","#a3a3a3","#8f8f8f","#7b7b7b","#676767","#535353","#3d3d3d","#262626"]}},
    "detail": {"field": "s"}
   }},
  {"data": {"name": "tx"}, "transform": [{"filter": "datum.p === 'v' && datum.k === 'L'"}],
   "mark": {"type": "text", "font": "Liberation Serif", "fontSize": 20, "fontStyle": "italic", "fill": "#000", "baseline": "middle"},
   "encoding": {
    "y": {"field": "r", "type": "quantitative", "scale": {"domain": [0, 9.1], "nice": false, "zero": false},
      "axis": {"orient": "right", "values": [0,1,2,3,4,5,6,7,8,9], "tickSize": -9, "encode": {"ticks": {"update": {"x2": {"signal": "datum.value % 2 === 0 ? -9 : -6"}}}}, "labels": false, "title": null}},
    "text": {"field": "t"}}}
 ]
},
{
 "width": 338, "height": 181,
 "resolve": {"axis": {"y": "independent"}},
 "encoding": {
  "x": {"field": "z", "type": "quantitative", "scale": {"domain": [-8.4, 8.25], "nice": false, "zero": false},
    "axis": {"values": [-8,-7,-6,-5,-4,-3,-2,-1,0,1,2,3,4,5,6,7,8], "tickSize": 10, "encode": {"ticks": {"update": {"y2": {"signal": "datum.value % 2 === 0 ? 10 : 6"}}}}, "labelExpr": "datum.value % 2 === 0 ? (datum.value < 0 ? '−' + abs(datum.value) : '' + datum.value) : ''", "labelPadding": 11, "title": "z, фм", "titleX": 333, "titleY": 57, "titleAlign": "right", "titleBaseline": "alphabetic"}}
 },
 "layer": [
  {"data": {"name": "ar"}, "transform": [{"filter": "datum.p === 'g'"}],
   "mark": {"type": "area", "interpolate": "monotone", "opacity": 1},
   "encoding": {
    "y": {"field": "h", "type": "quantitative", "stack": null, "scale": {"domain": [0, 9.1], "nice": false, "zero": false},
      "axis": {"values": [0,1,2,3,4,5,6,7,8,9], "tickSize": -7, "encode": {"ticks": {"update": {"x2": {"signal": "datum.value % 2 === 0 ? 7 : 5"}}}}, "labelExpr": "datum.value % 2 === 0 ? '' + datum.value : ''", "labelPadding": 15, "title": "ρ, фм", "titleAngle": 0, "titleAlign": "left", "titleBaseline": "alphabetic", "titleX": -28, "titleY": -14}},
    "y2": {"field": "o"},
    "color": {"field": "l", "type": "ordinal", "legend": null, "scale": {"domain": [1,2,3,4,5,6,7,8,9,10], "range": ["#e2e2e2","#cdcdcd","#b8b8b8","#a3a3a3","#8f8f8f","#7b7b7b","#676767","#535353","#3d3d3d","#262626"]}},
    "detail": {"field": "s"}
   }},
  {"data": {"name": "tx"}, "transform": [{"filter": "datum.p === 'g' && datum.k === 'L'"}],
   "mark": {"type": "text", "font": "Liberation Serif", "fontSize": 20, "fontStyle": "italic", "fill": "#000", "baseline": "middle"},
   "encoding": {
    "y": {"field": "r", "type": "quantitative", "scale": {"domain": [0, 9.1], "nice": false, "zero": false},
      "axis": {"orient": "right", "values": [0,1,2,3,4,5,6,7,8,9], "tickSize": -9, "encode": {"ticks": {"update": {"x2": {"signal": "datum.value % 2 === 0 ? -9 : -6"}}}}, "labels": false, "title": null}},
    "text": {"field": "t"}}}
 ]
}
]
}
